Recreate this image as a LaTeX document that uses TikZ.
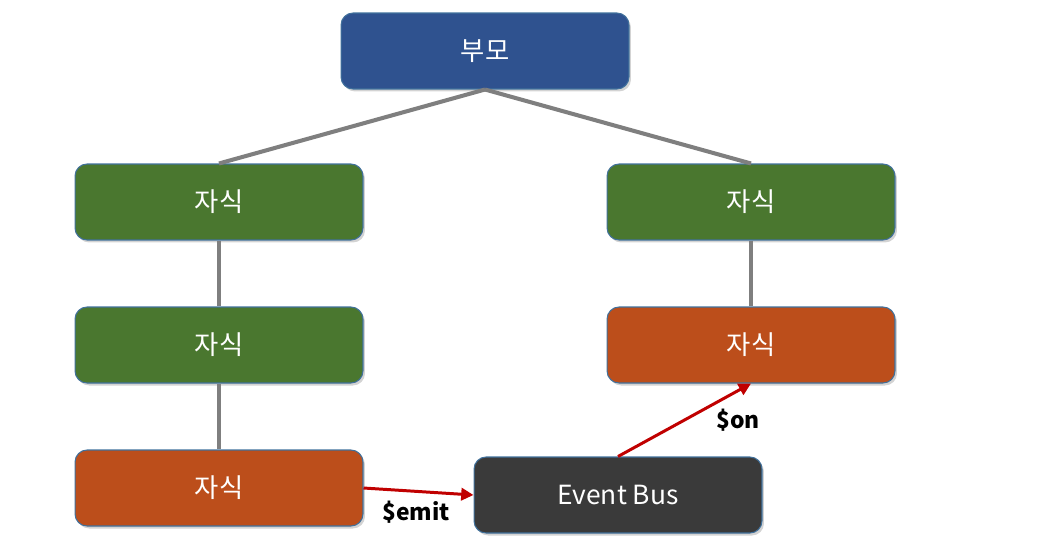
\documentclass[tikz,border=0pt]{standalone}
\usepackage{fontspec}
\setmainfont{Noto Sans CJK KR}
\usepackage{xcolor}
\definecolor{boxblue}{HTML}{2F528F}
\definecolor{boxgreen}{HTML}{4A772F}
\definecolor{boxorange}{HTML}{BC4E1B}
\definecolor{boxdark}{HTML}{3A3A3A}
\definecolor{boxedge}{HTML}{41719C}
\definecolor{linegray}{HTML}{7F7F7F}
\definecolor{eventred}{HTML}{C00000}
\usepackage{tikz}
\usetikzlibrary{arrows.meta,shadows}

\begin{document}
\begin{tikzpicture}[x=0.02cm, y=-0.02cm,
    card/.style={rounded corners=0.24cm, draw=boxedge, line width=0.6pt, text=white,
      minimum width=5.76cm, minimum height=1.52cm, font=\fontsize{15}{18}\selectfont,
      drop shadow={shadow xshift=0.04cm, shadow yshift=-0.05cm, opacity=0.35}},
    tree/.style={linegray, line width=2.3pt},
    bus/.style={-{Triangle[length=7pt,width=7pt]}, eventred, line width=1.7pt},
    tag/.style={font=\fontsize{13}{15}\selectfont\bfseries, text=black}]
  \useasboundingbox (0,0) rectangle (1061,555);
  \node[card, fill=boxblue] (parent) at (485,51) {부모};
  \node[card, fill=boxgreen] (left1) at (219,202) {자식};
  \node[card, fill=boxgreen] (left2) at (219,345) {자식};
  \node[card, fill=boxorange] (left3) at (219,488) {자식};
  \node[card, fill=boxgreen] (right1) at (751,202) {자식};
  \node[card, fill=boxorange] (right2) at (751,345) {자식};
  \node[card, fill=boxdark] (eventbus) at (618,495) {Event Bus};
  % tree lines
  \draw[tree] (parent.south) -- (left1.north);
  \draw[tree] (parent.south) -- (right1.north);
  \draw[tree] (left1) -- (left2);
  \draw[tree] (left2) -- (left3);
  \draw[tree] (right1) -- (right2);
  % event flow
  \draw[bus] (left3.east) -- (eventbus.west);
  \draw[bus] (eventbus.north) -- (right2.south);
  \node[tag] (emitlabel) at (416,512) {\$emit};
  \node[tag] (onlabel) at (738,420) {\$on};
\end{tikzpicture}
\end{document}
